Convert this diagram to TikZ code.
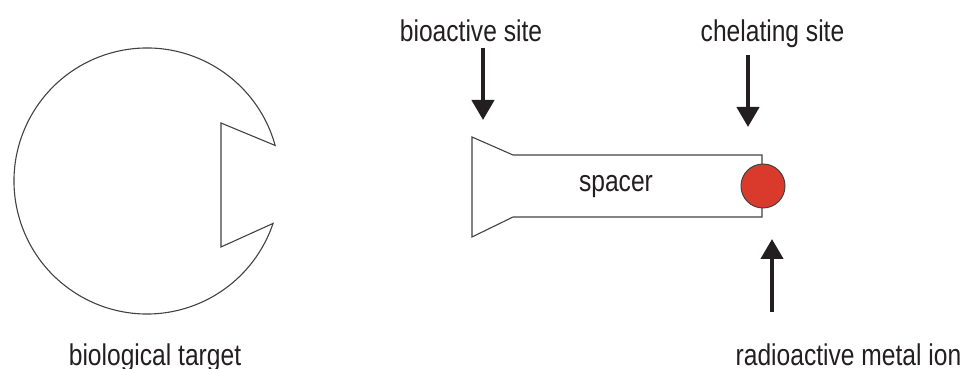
\documentclass[tikz,border=0pt]{standalone}
\usepackage{fontspec}
\setmainfont[FakeStretch=0.82]{Liberation Sans}
\usetikzlibrary{arrows.meta}
\definecolor{ink}{HTML}{231F20}
\definecolor{ionred}{HTML}{D93A2B}
\tikzset{
  lbl/.style={font=\fontsize{30}{36}\selectfont, text=ink, inner sep=0pt, anchor=base},
  outline/.style={draw=ink!85, line width=1.1pt, line join=miter},
  bigarrow/.style={draw=ink, line width=4.3pt, -{Triangle[length=20pt,width=22pt]}, shorten >=0pt}
}
\begin{document}
\begin{tikzpicture}[x=1pt,y=1pt]
\useasboundingbox (0,0) rectangle (961,369);
% biological target: circle with notch
\coordinate (cc) at (147,188);
\draw[outline] (cc) ++(15.5:133) coordinate (nu)
  arc[start angle=15.5, end angle=341.4, radius=133pt] coordinate (nl)
  -- (221,122) coordinate (nib) -- (221,246) coordinate (nit) -- cycle;
% spacer shape
\draw[outline] (472,232) -- (513,214) -- (762,214) -- (762,152) -- (513,152) -- (472,132) -- cycle;
\node[lbl] (spacer) at (616,177) {spacer};
% radioactive metal ion
\node[circle, fill=ionred, draw=ink!85, line width=1pt, minimum size=44pt, inner sep=0pt] (ion) at (763,183) {};
% labels
\node[lbl] (bio) at (471,327) {bioactive site};
\node[lbl] (chel) at (772.5,327) {chelating site};
\node[lbl] (target) at (155,3) {biological target};
\node[lbl] (radio) at (848.5,3) {radioactive metal ion};
% arrows
\coordinate (bioS) at (483,321);
\coordinate (bioE) at (483,249);
\coordinate (chelS) at (748,314);
\coordinate (chelE) at (748,242);
\coordinate (radS) at (772,57);
\coordinate (radE) at (772,130);
\draw[bigarrow] (bioS) -- (bioE);
\draw[bigarrow] (chelS) -- (chelE);
\draw[bigarrow] (radS) -- (radE);
\end{tikzpicture}
\end{document}
